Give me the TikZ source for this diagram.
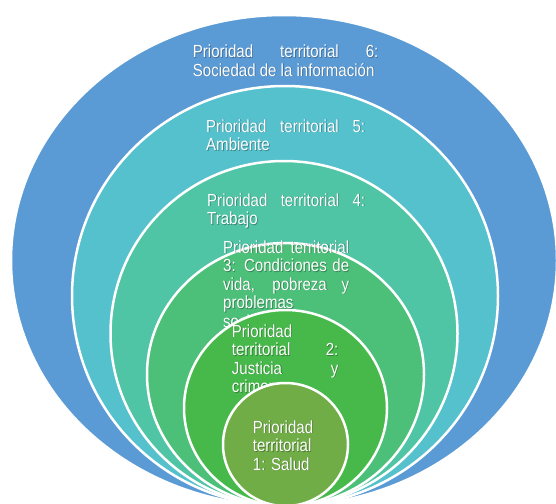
\documentclass[tikz,border=0pt]{standalone}
\usepackage{fontspec}
\setmainfont{Liberation Sans}[FakeStretch=0.86]
\usetikzlibrary{shapes.geometric}
\definecolor{csix}{HTML}{5B9BD5}
\definecolor{cfive}{HTML}{55C1CD}
\definecolor{cfour}{HTML}{4FC5A5}
\definecolor{cthree}{HTML}{4CBF78}
\definecolor{ctwo}{HTML}{47B94A}
\definecolor{cone}{HTML}{70AD47}
\newcommand\jl[1]{\makebox[\linewidth][s]{#1}}
\newcommand\ptext[4]{%
  \node[lbl, text=black, text opacity=0.3, xshift=0.8pt, yshift=-0.8pt] (#1s) at (#2) {\parbox[t]{#3}{#4}};
  \node[lbl] (#1) at (#2) {\parbox[t]{#3}{#4}};
}
\begin{document}
\begin{tikzpicture}[x=1pt,y=-1pt,
  ring/.style={ellipse, draw=white, line width=2.5pt, inner sep=0pt},
  lbl/.style={inner sep=0pt, anchor=base west, text=white,
    font=\fontsize{17.5}{18.5}\selectfont}]
\useasboundingbox (0,0) rectangle (556,503);
\clip (0,0) rectangle (556,503);
\node[ring, fill=csix, minimum width=546pt, minimum height=491pt] (c6) at (284,260.5) {};
\ptext{t6}{192.7,57.5}{185.5pt}{\jl{Prioridad territorial 6:}\\Sociedad de la información}
\node[ring, fill=cfive, minimum width=426pt, minimum height=420pt] (c5) at (285,296) {};
\ptext{t5}{206,132}{159pt}{\jl{Prioridad territorial 5:}\\Ambiente}
\node[ring, fill=cfour, minimum width=347pt, minimum height=345pt] (c4) at (284,333.5) {};
\ptext{t4}{207,206}{158pt}{\jl{Prioridad territorial 4:}\\Trabajo}
\node[ring, fill=cthree, minimum width=277pt, minimum height=263pt] (c3) at (285.5,374.5) {};
\ptext{t3}{223,253}{126pt}{\jl{Prioridad territorial}\\\jl{3: Condiciones de}\\\jl{vida, pobreza y}\\problemas\\sociales}
\node[ring, fill=ctwo, minimum width=203pt, minimum height=196pt] (c2) at (285.5,408) {};
\ptext{t2}{231.7,337}{106.5pt}{Prioridad\\\jl{territorial 2:}\\\jl{Justicia y}\\crimen}
\node[ring, fill=cone, minimum width=125pt, minimum height=123pt] (c1) at (285.5,444.5) {};
\ptext{t1}{252.7,433}{62pt}{Prioridad\\territorial\\1: Salud}
\end{tikzpicture}
\end{document}
